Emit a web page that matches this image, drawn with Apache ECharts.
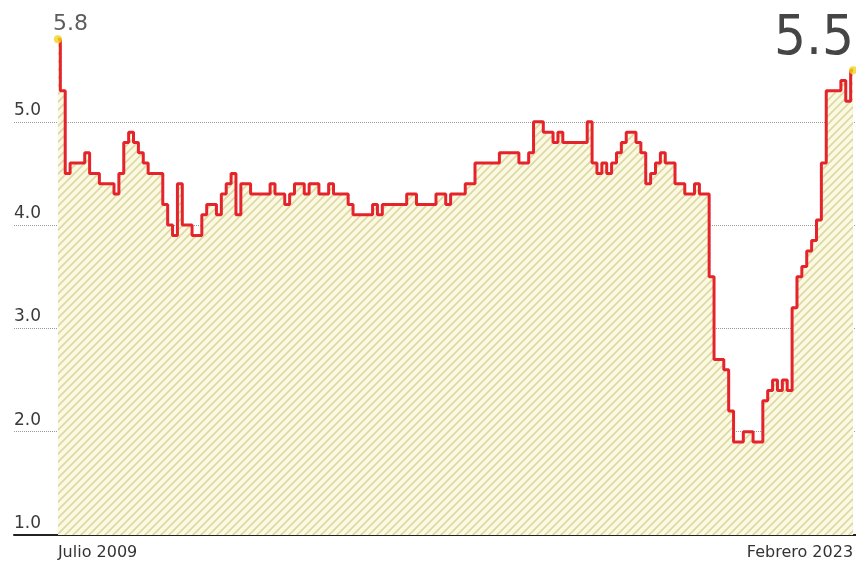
<!DOCTYPE html>
<html>
<head>
<meta charset="utf-8">
<script src="https://cdn.jsdelivr.net/npm/echarts@6/dist/echarts.min.js"></script>
<style>
  html, body { margin: 0; padding: 0; background: #fff; }
  #chart { width: 856px; height: 567px; }
</style>
</head>
<body>
<div id="chart"></div>
<script>
// monthly values, Julio 2009 .. Febrero 2023
const rate = [
  5.8, 5.3, 4.5, 4.6, 4.6, 4.6, 4.7, 4.5, 4.5, 4.4,
  4.4, 4.4, 4.3, 4.5, 4.8, 4.9, 4.8, 4.7, 4.6, 4.5,
  4.5, 4.5, 4.2, 4.0, 3.9, 4.4, 4.0, 4.0, 3.9, 3.9,
  4.1, 4.2, 4.2, 4.1, 4.3, 4.4, 4.5, 4.1, 4.4, 4.4,
  4.3, 4.3, 4.3, 4.3, 4.4, 4.3, 4.3, 4.2, 4.3, 4.4,
  4.4, 4.3, 4.4, 4.4, 4.3, 4.3, 4.4, 4.3, 4.3, 4.3,
  4.2, 4.1, 4.1, 4.1, 4.1, 4.2, 4.1, 4.2, 4.2, 4.2,
  4.2, 4.2, 4.3, 4.3, 4.2, 4.2, 4.2, 4.2, 4.3, 4.3,
  4.2, 4.3, 4.3, 4.3, 4.4, 4.4, 4.6, 4.6, 4.6, 4.6,
  4.6, 4.7, 4.7, 4.7, 4.7, 4.6, 4.6, 4.7, 5.0, 5.0,
  4.9, 4.9, 4.8, 4.9, 4.8, 4.8, 4.8, 4.8, 4.8, 5.0,
  4.6, 4.5, 4.6, 4.5, 4.6, 4.7, 4.8, 4.9, 4.9, 4.8,
  4.7, 4.4, 4.5, 4.6, 4.7, 4.6, 4.6, 4.4, 4.4, 4.3,
  4.3, 4.4, 4.3, 4.3, 3.5, 2.7, 2.7, 2.6, 2.2, 1.9,
  1.9, 2.0, 2.0, 1.9, 1.9, 2.3, 2.4, 2.5, 2.4, 2.5,
  2.4, 3.2, 3.5, 3.6, 3.75, 3.85, 4.05, 4.6, 5.3, 5.3,
  5.3, 5.4, 5.2, 5.5
];
const firstLabel = 'Julio 2009';
const lastLabel = 'Febrero 2023';
const yTicks = [1, 2, 3, 4, 5];

const last = rate.length - 1;
const points = rate.map((v, i) => [i, v]);

// diagonal hatching for the area under the line
function hatch() {
  const s = 8;
  const c = document.createElement('canvas');
  c.width = s; c.height = s;
  const ctx = c.getContext('2d');
  ctx.fillStyle = '#fbf9e2';
  ctx.fillRect(0, 0, s, s);
  ctx.strokeStyle = '#dcd8a4';
  ctx.lineWidth = 1.6;
  ctx.beginPath();
  ctx.moveTo(-1, s + 1); ctx.lineTo(s + 1, -1);
  ctx.moveTo(-1, 1); ctx.lineTo(1, -1);
  ctx.moveTo(s - 1, s + 1); ctx.lineTo(s + 1, s - 1);
  ctx.stroke();
  return c;
}

const chart = echarts.init(document.getElementById('chart'));
chart.setOption({
  animation: false,
  backgroundColor: '#fff',
  grid: { left: 14, right: 0, top: 18.5, bottom: 32 },
  xAxis: {
    type: 'value',
    min: -9,
    max: last + 0.6,
    axisLine: { show: true, lineStyle: { color: '#222', width: 2 } },
    axisTick: { show: false },
    axisLabel: { show: false },
    splitLine: { show: false }
  },
  yAxis: {
    type: 'value',
    min: 1,
    max: 6,
    interval: 1,
    axisLine: { show: false },
    axisTick: { show: false },
    axisLabel: {
      inside: true,
      margin: 0,
      showMaxLabel: false,
      verticalAlign: 'bottom',
      padding: [0, 0, 3, 0],
      color: '#3a3a3a',
      fontSize: 17,
      fontFamily: 'DejaVu Sans',
      formatter: v => yTicks.includes(v) ? v.toFixed(1) : ''
    },
    splitLine: {
      showMinLine: false,
      showMaxLine: false,
      lineStyle: { color: '#9a9a9a', type: 'dotted', width: 1 }
    }
  },
  series: [
    {
      type: 'line',
      step: 'middle',
      data: points,
      symbol: 'none',
      lineStyle: { color: '#e5232b', width: 3 },
      areaStyle: { color: { image: hatch(), repeat: 'repeat' }, opacity: 1, origin: 'start' },
      z: 3
    },
    {
      type: 'scatter',
      symbolSize: 8,
      itemStyle: { color: '#f2d31c' },
      z: 5,
      label: { color: '#222', formatter: p => p.value[1].toFixed(1) },
      data: [
        {
          value: [0, rate[0]],
          label: { show: true, position: 'top', align: 'left', offset: [-5, 5],
                   color: '#333', fontSize: 22, fontFamily: 'DejaVu Sans' }
        },
        {
          value: [last, rate[last]],
          label: { show: true, position: 'top', align: 'right', offset: [1, 6],
                   color: '#161616', fontSize: 56, fontWeight: 'normal',
                   fontFamily: 'Liberation Sans Narrow, DejaVu Sans Condensed, sans-serif' }
        }
      ]
    }
  ]
});

const x0 = chart.convertToPixel({ xAxisIndex: 0 }, 0);
const x1 = chart.convertToPixel({ xAxisIndex: 0 }, last);
const yBase = chart.convertToPixel({ yAxisIndex: 0 }, 1);
chart.setOption({
  graphic: [
    { type: 'text', x: x0, y: yBase + 10,
      style: { text: firstLabel, fill: '#333', font: '16px "DejaVu Sans"', textAlign: 'left', textVerticalAlign: 'top' } },
    { type: 'text', x: x1, y: yBase + 10,
      style: { text: lastLabel, fill: '#333', font: '16px "DejaVu Sans"', textAlign: 'right', textVerticalAlign: 'top' } }
  ]
});
</script>
</body>
</html>
